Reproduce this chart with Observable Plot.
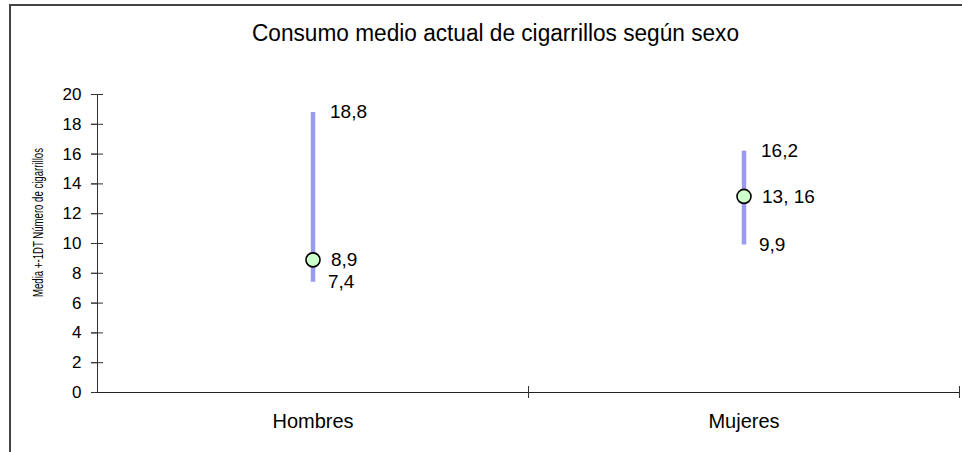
<!DOCTYPE html>
<html>
<head>
<meta charset="utf-8">
<script src="https://cdn.jsdelivr.net/npm/d3@7"></script>
<script src="https://cdn.jsdelivr.net/npm/@observablehq/plot@0.6"></script>
<style>
  html, body { margin: 0; padding: 0; background: #fff; }
  #wrap { position: relative; width: 962px; height: 452px; overflow: hidden; }
  #border { position: absolute; left: 9px; top: 4px; right: -4px; bottom: -4px; border-left: 2px solid #444; border-top: 2px solid #444; pointer-events: none; }
  svg { font-family: "Liberation Sans", Arial, sans-serif; }
</style>
</head>
<body>
<div id="wrap"><div id="border"></div></div>
<script>
const title = "Consumo medio actual de cigarrillos según sexo";
const yLabel = "Media +-1DT Número de cigarrillos";
const categories = ["Hombres", "Mujeres"];
const means = [8.9, 13.16];
const lows = [7.4, 9.9];
const highs = [18.8, 16.2];
const meanLabels = ["8,9", "13, 16"];
const lowLabels = ["7,4", "9,9"];
const highLabels = ["18,8", "16,2"];
const yTicks = [0, 2, 4, 6, 8, 10, 12, 14, 16, 18, 20];

const rows = categories.map((c, i) => ({
  cat: c, pos: i + 0.5, mean: means[i], low: lows[i], high: highs[i],
  meanLabel: meanLabels[i], lowLabel: lowLabels[i], highLabel: highLabels[i]
}));

const W = 962, H = 452, mT = 94, mB = 60, mL = 97, mR = 3;
const frameH = H - mT - mB;
const frameW = W - mL - mR;

const chart = Plot.plot({
  width: W, height: H,
  marginTop: mT, marginBottom: mB, marginLeft: mL, marginRight: mR,
  style: { fontFamily: "'Liberation Sans', Arial, sans-serif", fontSize: "17px", color: "#000", background: "transparent" },
  x: { type: "linear", domain: [0, categories.length] },
  y: { domain: [0, 20] },
  marks: [
    // y axis
    Plot.axisY(yTicks, { tickSize: 6, tickPadding: 10, fontSize: 17, stroke: "#333", label: null }),
    Plot.ruleY(yTicks, { insetLeft: -6, insetRight: frameW - 6, stroke: "#333" }),
    Plot.ruleX([0], { stroke: "#333" }),
    // x axis
    Plot.ruleY([0], { stroke: "#222" }),
    Plot.axisX(rows.map(d => d.pos), { tickSize: 0, tickPadding: 21, fontSize: 20, tickFormat: v => categories[Math.floor(v)], label: null }),
    Plot.ruleX(d3.range(1, categories.length + 1), { insetTop: frameH - 6, insetBottom: -6, stroke: "#333" }),
    // error bars
    Plot.ruleX(rows, { x: "pos", y1: "low", y2: "high", stroke: "#9a9af5", strokeWidth: 4.5 }),
    Plot.dot(rows, { x: "pos", y: "mean", r: 7, fill: "#ccffcc", stroke: "#000", strokeWidth: 1.6 }),
    // value labels
    Plot.text(rows, { x: "pos", y: "high", text: "highLabel", textAnchor: "start", dx: 17, fontSize: 19 }),
    Plot.text(rows, { x: "pos", y: "mean", text: "meanLabel", textAnchor: "start", dx: 18, fontSize: 19 }),
    Plot.text(rows, { x: "pos", y: "low", text: "lowLabel", textAnchor: "start", dx: 15, fontSize: 19 }),
    // title
    Plot.text([title], { frameAnchor: "top", textAnchor: "middle", dx: -33, dy: -61, lineAnchor: "middle", fontSize: 23 }),
    // y label
    Plot.text([yLabel], { frameAnchor: "left", textAnchor: "middle", rotate: -90, dx: -59, dy: -21, lineAnchor: "middle", fontSize: 14 })
  ]
});
d3.select(chart).selectAll("text").each(function () {
  const t = this.textContent;
  if (t === yLabel) { this.setAttribute("textLength", 149); this.setAttribute("lengthAdjust", "spacingAndGlyphs"); }
  if (t === title) { this.setAttribute("textLength", 487); this.setAttribute("lengthAdjust", "spacingAndGlyphs"); }
});
document.getElementById("wrap").prepend(chart);
</script>
</body>
</html>
